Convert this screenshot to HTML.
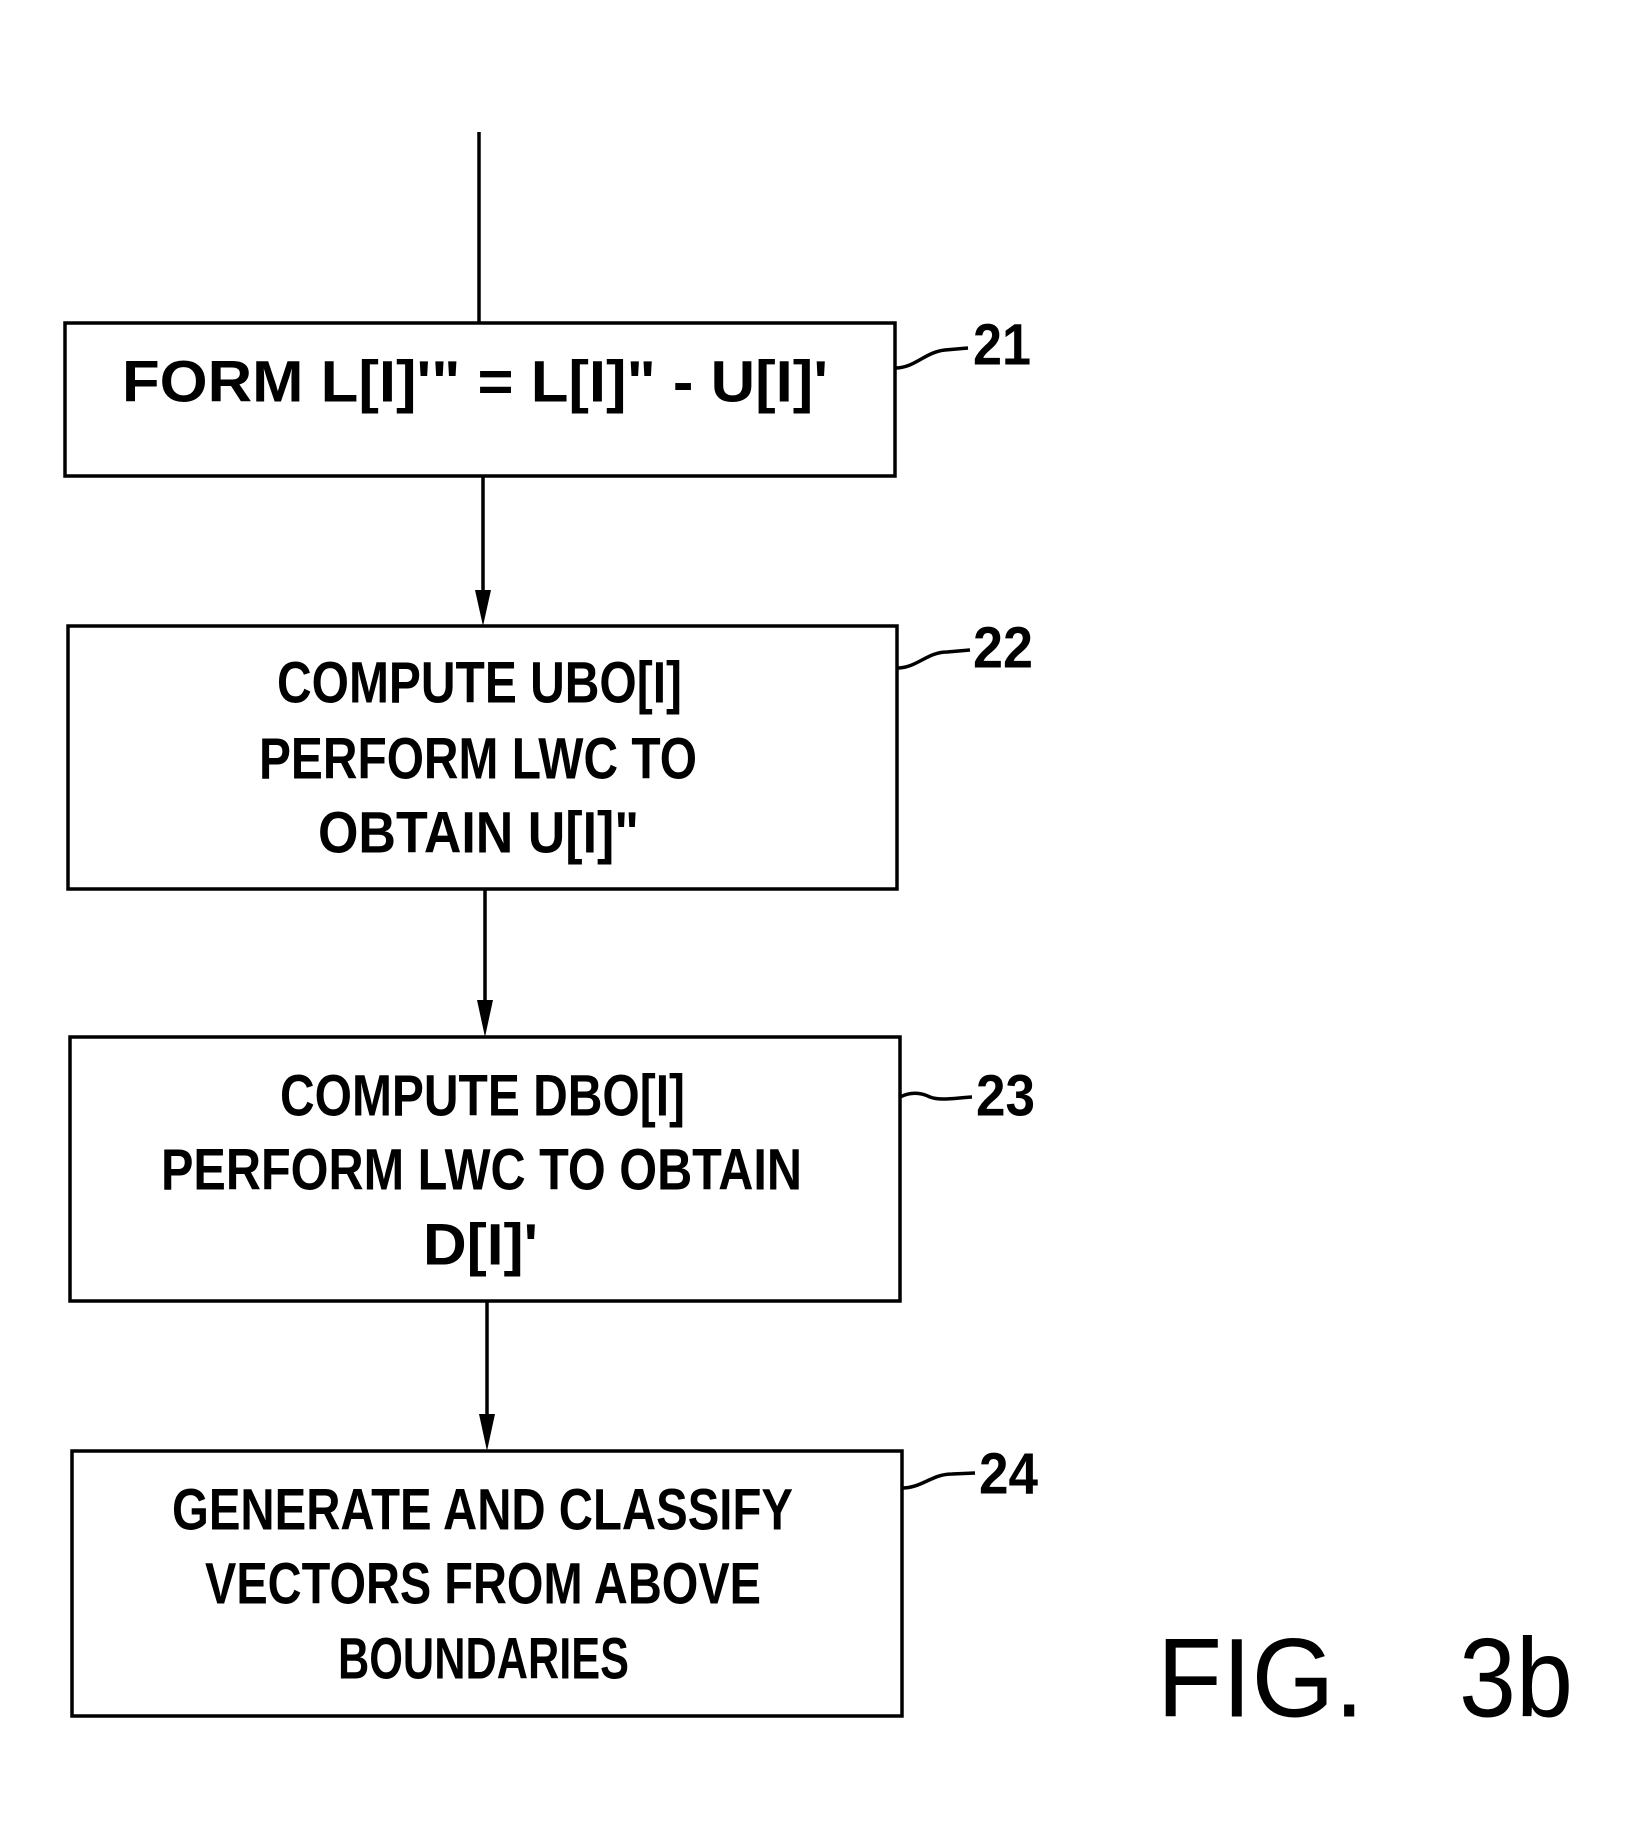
<!DOCTYPE html>
<html><head><style>html,body{margin:0;padding:0;background:#fff}svg{display:block}</style></head>
<body>
<svg width="1648" height="1838" viewBox="0 0 1648 1838" xmlns="http://www.w3.org/2000/svg">
<g stroke="#000" stroke-width="3.5" fill="none">
<line x1="479" y1="132" x2="479" y2="323"/>
<rect x="65" y="323" width="830" height="153"/>
<line x1="483" y1="476" x2="483" y2="600"/>
<rect x="68" y="626" width="829" height="263"/>
<line x1="485" y1="889" x2="485" y2="1010"/>
<rect x="70" y="1037" width="830" height="264"/>
<line x1="487" y1="1301" x2="487" y2="1424"/>
<rect x="72" y="1451" width="830" height="265"/>
<path d="M895 368 C915 368, 925 352, 945 350 L968 348"/>
<path d="M897 668 C917 668, 927 652, 947 652 L970 650"/>
<path d="M900 1097 C910 1092, 920 1092, 930 1097 C940 1101, 955 1098, 972 1097"/>
<path d="M902 1488 C922 1488, 932 1474, 952 1474 L975 1473"/>
</g>
<g fill="#000">
<polygon points="475,590 491,590 483,626"/>
<polygon points="477,1000 493,1000 485,1037"/>
<polygon points="479,1414 495,1414 487,1451"/>
</g>
<g font-family="Liberation Sans, sans-serif" font-weight="bold" font-size="58" fill="#000" dominant-baseline="central">
<text x="122" y="382" textLength="706" lengthAdjust="spacingAndGlyphs">FORM L[I]'" = L[I]" - U[I]'</text>
<text x="277" y="683" textLength="405" lengthAdjust="spacingAndGlyphs">COMPUTE UBO[I]</text>
<text x="259" y="759" textLength="438" lengthAdjust="spacingAndGlyphs">PERFORM LWC TO</text>
<text x="318" y="833" textLength="321" lengthAdjust="spacingAndGlyphs">OBTAIN U[I]"</text>
<text x="280" y="1096" textLength="405" lengthAdjust="spacingAndGlyphs">COMPUTE DBO[I]</text>
<text x="161" y="1170" textLength="641" lengthAdjust="spacingAndGlyphs">PERFORM LWC TO OBTAIN</text>
<text x="423" y="1245" textLength="115" lengthAdjust="spacingAndGlyphs">D[I]'</text>
<text x="172" y="1510" textLength="621" lengthAdjust="spacingAndGlyphs">GENERATE AND CLASSIFY</text>
<text x="205" y="1584" textLength="556" lengthAdjust="spacingAndGlyphs">VECTORS FROM ABOVE</text>
<text x="338" y="1659" textLength="291" lengthAdjust="spacingAndGlyphs">BOUNDARIES</text>
<text x="973" y="345" textLength="58" lengthAdjust="spacingAndGlyphs">21</text>
<text x="973" y="648" textLength="60" lengthAdjust="spacingAndGlyphs">22</text>
<text x="976" y="1096" textLength="59" lengthAdjust="spacingAndGlyphs">23</text>
<text x="979" y="1474" textLength="59" lengthAdjust="spacingAndGlyphs">24</text>
</g>
<g font-family="Liberation Sans, sans-serif" font-size="112" dominant-baseline="central" fill="#000">
<text x="1157" y="1678" textLength="207" lengthAdjust="spacingAndGlyphs">FIG.</text>
<text x="1459" y="1678" textLength="114" lengthAdjust="spacingAndGlyphs">3b</text>
</g>
</svg>
</body></html>
